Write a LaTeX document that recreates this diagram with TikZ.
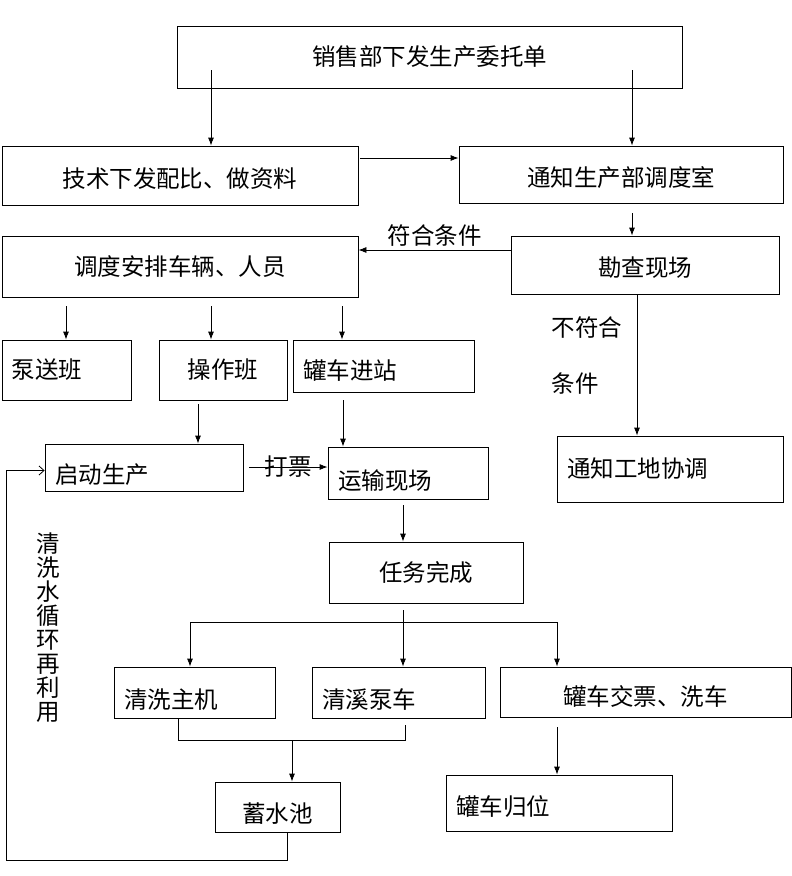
\documentclass[tikz,border=0pt]{standalone}
\usepackage{fontspec}
\newfontfamily\cjkfont{Noto Sans CJK SC}
\usetikzlibrary{arrows.meta}

\newcommand{\lowtext}[2]{\raisebox{-#1}[\height][\depth]{#2}}

\tikzset{
	box/.style={draw, rectangle, inner sep=0pt, line width=0.8pt},
	lbox/.style={box, align=left, inner xsep=10pt},
	arr/.style={-{Latex[length=8pt,width=6pt]}, line width=0.8pt},
	ln/.style={line width=0.8pt},
	back/.style={-{Straight Barb[length=5pt,width=9pt]}, line width=0.8pt},
}

\begin{document}
\begin{tikzpicture}[x=1pt,y=-1pt,
	every node/.style={font=\cjkfont\fontsize{23.5}{27}\selectfont}]
	\useasboundingbox (0,0) rectangle (792,876);
	\node[box, minimum width=505, minimum height=62] at (429.5,57) (sales) {销售部下发生产委托单};
	\node[box, minimum width=356, minimum height=59] at (180,175.5) (tech) {\lowtext{3pt}{技术下发配比、做资料}};
	\node[box, minimum width=324, minimum height=57] at (621,174.5) (notice) {\lowtext{3pt}{通知生产部调度室}};
	\node[box, minimum width=356, minimum height=61] at (180,266.5) (dispatch) {调度安排车辆、人员};
	\node[box, minimum width=268, minimum height=58] at (645,265) (survey) {\lowtext{3pt}{勘查现场}};
	\node[lbox, text width=109, minimum height=60] at (66.5,370) (pump) {泵送班};
	\node[box, minimum width=128, minimum height=60] at (223,370) (oper) {操作班};
	\node[lbox, text width=161, minimum height=52] at (383.5,366) (tankin) {\lowtext{5pt}{罐车进站}};
	\node[lbox, text width=206, minimum height=66] at (670,469) (site) {通知工地协调};
	\node[lbox, text width=178, minimum height=47] at (144,467.5) (start) {\lowtext{7pt}{启动生产}};
	\node[lbox, text width=140, minimum height=52] at (408,473) (trans) {\lowtext{8pt}{运输现场}};
	\node[box, minimum width=194, minimum height=61] at (426,572.5) (done) {任务完成};
	\node[lbox, text width=141, minimum height=51] at (194.5,692.5) (wash) {\lowtext{7pt}{清洗主机}};
	\node[lbox, text width=153, minimum height=51] at (398.5,692.5) (pumpcar) {\lowtext{7pt}{清溪泵车}};
	\node[box, minimum width=291, minimum height=50] at (645.5,692) (ticket) {\lowtext{4pt}{罐车交票、洗车}};
	\node[box, minimum width=125, minimum height=50] at (277.5,807) (pool) {\lowtext{7pt}{蓄水池}};
	\node[lbox, text width=206, minimum height=56] at (559,803) (return) {\lowtext{4pt}{罐车归位}};
	\node[anchor=west, align=left] at (548,356) (nolbl) {不符合\\[29pt]条件};
	\node[align=center, font=\cjkfont\fontsize{23.5}{24}\selectfont] at (48,628) (reuse)
		{清\\洗\\水\\循\\环\\再\\利\\用};

	\coordinate (s1) at (211,70);
	\coordinate (s2) at (632,70);
	\coordinate (s3) at (360,158);
	\coordinate (s4) at (632,213);
	\coordinate (s5) at (511,250);
	\coordinate (d1) at (66,306);
	\coordinate (d2) at (211,306);
	\coordinate (d3) at (342,306);
	\coordinate (o1) at (198,404);
	\coordinate (t1) at (343,400);
	\coordinate (p1) at (249,467);
	\coordinate (r1) at (403,505);
	\coordinate (f1) at (403,610);
	\coordinate (bl) at (190,622);
	\coordinate (br) at (557,622);
	\coordinate (m1) at (178,740);
	\coordinate (m2) at (405,740);
	\coordinate (m3) at (292,740);
	\coordinate (k1) at (557,727);
	\coordinate (lp) at (6,860);

	\draw[arr] (s1) -- (s1 |- tech.north);
	\draw[arr] (s2) -- (s2 |- notice.north);
	\draw[arr] (s3) -- (s3 -| notice.west);
	\draw[arr] (s4) -- (s4 |- survey.north);
	\draw[arr] (s5) -- (s5 -| dispatch.east) node[midway, above=0pt] {符合条件};
	\draw[arr] (d1) -- (d1 |- pump.north);
	\draw[arr] (d2) -- (d2 |- oper.north);
	\draw[arr] (d3) -- (d3 |- tankin.north);
	\draw[arr] ([xshift=-8]survey.south) -- ([xshift=-8]survey.south |- site.north);
	\draw[arr] (o1) -- (o1 |- start.north);
	\draw[arr] (t1) -- (t1 |- trans.north);
	\draw[arr] (p1) -- (p1 -| trans.west) node[midway, inner sep=0pt] {打票};
	\draw[arr] (r1) -- (r1 |- done.north);
	\draw[arr] (f1) -- (f1 |- pumpcar.north);
	\draw[ln] (bl) -- (br);
	\draw[arr] (bl) -- (bl |- wash.north);
	\draw[arr] (br) -- (br |- ticket.north);
	\draw[ln] (m1 |- wash.south) -- (m1) -- (m2) -- ++(0,-15);
	\draw[arr] (m3) -- (m3 |- pool.north);
	\draw[arr] (k1) -- (k1 |- return.north);
	\draw[back] ([xshift=10]pool.south) |- (lp) |- ([yshift=-3]start.west);
\end{tikzpicture}
\end{document}
